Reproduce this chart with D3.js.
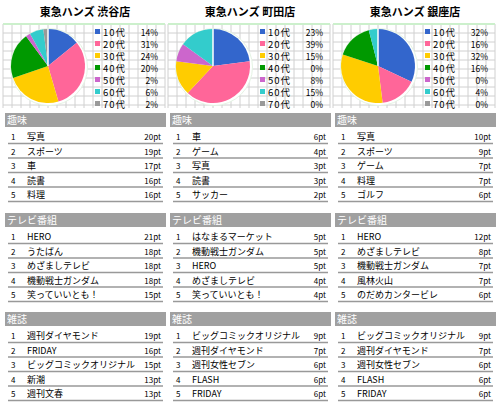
<!DOCTYPE html>
<html><head><meta charset="utf-8">
<script src="https://cdn.jsdelivr.net/npm/d3@7"></script>
<style>body{margin:0;background:#fff}text{font-family:"Noto Sans CJK JP",sans-serif}</style>
</head><body><div id="chart"></div>
<script>
var stores = ["東急ハンズ 渋谷店", "東急ハンズ 町田店", "東急ハンズ 銀座店"];
var ages = ["10代", "20代", "30代", "40代", "50代", "60代", "70代"];
var ageColors = ["#3366cc", "#ff6699", "#ffcc00", "#009900", "#cc66cc", "#33cccc", "#999999"];
var shares = [[14, 31, 24, 20, 2, 6, 2], [23, 39, 15, 0, 8, 15, 0], [32, 16, 32, 16, 0, 4, 0]];
var sections = ["趣味", "テレビ番組", "雑誌"];
var hobbyNames = [["写真", "スポーツ", "車", "読書", "料理"], ["車", "ゲーム", "写真", "読書", "サッカー"], ["写真", "スポーツ", "ゲーム", "料理", "ゴルフ"]];
var hobbyPts = [[20, 19, 17, 16, 16], [6, 4, 3, 3, 2], [10, 9, 7, 7, 6]];
var tvNames = [["HERO", "うたばん", "めざましテレビ", "機動戦士ガンダム", "笑っていいとも！"], ["はなまるマーケット", "機動戦士ガンダム", "HERO", "めざましテレビ", "笑っていいとも！"], ["HERO", "めざましテレビ", "機動戦士ガンダム", "風林火山", "のだめカンタービレ"]];
var tvPts = [[21, 18, 18, 18, 15], [5, 5, 5, 4, 4], [12, 8, 7, 7, 6]];
var magNames = [["週刊ダイヤモンド", "FRIDAY", "ビッグコミックオリジナル", "新潮", "週刊文春"], ["ビッグコミックオリジナル", "週刊ダイヤモンド", "週刊女性セブン", "FLASH", "FRIDAY"], ["ビッグコミックオリジナル", "週刊ダイヤモンド", "週刊女性セブン", "FLASH", "FRIDAY"]];
var magPts = [[19, 16, 15, 13, 13], [9, 7, 6, 6, 6], [9, 7, 6, 6, 6]];

var svg = d3.select("#chart").append("svg").attr("width", 501).attr("height", 404);
var sectionTop = [113, 213, 312];
var rowH = 14.5;

stores.forEach(function (store, s) {
  var g = svg.append("g").attr("transform", "translate(" + (s * 165) + ",0)");
  g.append("text").attr("x", 85).attr("y", 16).attr("text-anchor", "middle")
    .attr("font-size", 11).attr("font-weight", "bold").text(store);

  // grid background
  var gx = d3.range(3, 166, 9), gy = d3.range(24, 109, 9);
  g.selectAll(".vg").data(gx).join("line").attr("x1", d => d).attr("x2", d => d)
    .attr("y1", 24).attr("y2", 108).attr("stroke", "#d0d0d0");
  g.selectAll(".hg").data(gy).join("line").attr("y1", d => d).attr("y2", d => d)
    .attr("x1", 3).attr("x2", 165).attr("stroke", "#d0d0d0");
  g.append("line").attr("x1", 3).attr("x2", 165).attr("y1", 24).attr("y2", 24).attr("stroke", "#ccf0cc").attr("stroke-width", 2);

  var pie = d3.pie().sort(null).value(d => d)(shares[s]);
  var arc = d3.arc().innerRadius(0).outerRadius(37);
  var pg = g.append("g").attr("transform", "translate(48,66)");
  pg.append("circle").attr("r", 38.5).attr("fill", "#fff").attr("stroke", "#e4f4e4").attr("cx", 1).attr("cy", 1);
  pg.selectAll("path").data(pie).join("path").attr("d", arc)
    .attr("fill", (d, i) => ageColors[i]).attr("stroke", "none");
  pg.append("line").attr("x1", 0).attr("x2", 0).attr("y1", 0).attr("y2", -37).attr("stroke", "#fff").attr("stroke-width", 1.5);

  var lg = g.append("g").attr("transform", "translate(0,32)");
  ages.forEach(function (a, i) {
    var y = i * 12;
    lg.append("rect").attr("x", 95).attr("y", y - 3).attr("width", 5).attr("height", 5).attr("fill", ageColors[i]);
    lg.append("text").attr("x", 103).attr("y", y + 3.5).attr("font-size", 9.5).attr("letter-spacing", 1).text(a);
    lg.append("text").attr("x", 158).attr("y", y + 3.5).attr("font-size", 8.5).attr("text-anchor", "end").text(shares[s][i] + "%");
  });

  var names = [hobbyNames[s], tvNames[s], magNames[s]];
  var pts = [hobbyPts[s], tvPts[s], magPts[s]];
  sections.forEach(function (sec, k) {
    var top = sectionTop[k];
    g.append("rect").attr("x", 5).attr("y", top).attr("width", 161).attr("height", 14).attr("fill", "#a0a0a0");
    g.append("text").attr("x", 7).attr("y", top + 10.5).attr("font-size", 10).attr("fill", "#fff").text(sec);
    var y = d3.scaleLinear().domain([0, 1]).range([top + 14, top + 14 + rowH]);
    names[k].forEach(function (n, i) {
      var base = y(i + 1) + 2;
      g.append("line").attr("x1", 8).attr("x2", 163).attr("y1", base).attr("y2", base).attr("stroke", "#999").attr("stroke-width", 1.5);
      g.append("text").attr("x", 11).attr("y", base - 3.5).attr("font-size", 8).text(i + 1);
      g.append("text").attr("x", 27).attr("y", base - 3.5).attr("font-size", 9).text(n);
      g.append("text").attr("x", 161).attr("y", base - 3.5).attr("font-size", 8).attr("text-anchor", "end").text(pts[k][i] + "pt");
    });
  });
});
</script></body></html>
